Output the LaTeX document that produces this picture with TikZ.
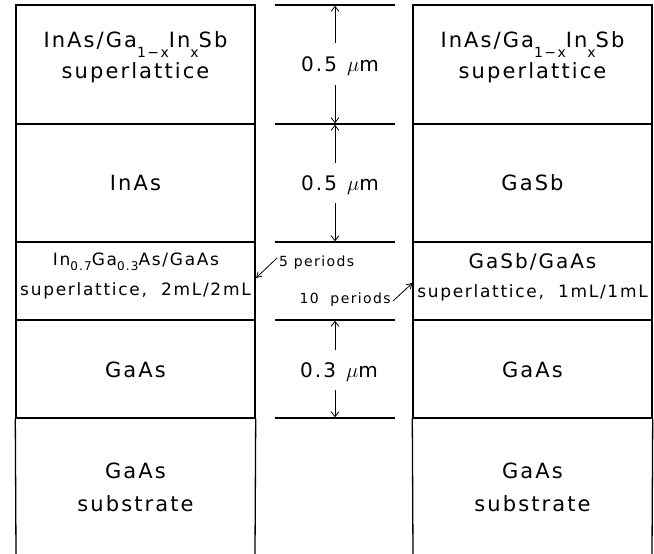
\documentclass[tikz,border=0pt]{standalone}
\usepackage{fontspec}
\setmainfont{DejaVu Sans}[LetterSpace=10]
\usetikzlibrary{arrows.meta}
\newcommand\lowsub[1]{\raisebox{-10pt}{\fontsize{14}{14}\selectfont #1}}
\newcommand\smsub[1]{\raisebox{-5pt}{\fontsize{12}{12}\selectfont #1}}
\begin{document}
\begin{tikzpicture}[x=1pt,y=-1pt,
  box/.style={draw, line width=1.4pt, rectangle, inner sep=0pt},
  rule/.style={line width=1.3pt},
  dimarr/.style={line width=0.8pt, -{Straight Barb[length=5pt,width=8pt]}},
  lbl/.style={anchor=base, inner sep=0pt, font=\fontsize{21}{23}\selectfont},
  mid/.style={anchor=base, inner sep=0pt, font=\fontsize{20}{22}\selectfont},
  sm/.style={anchor=base, inner sep=0pt, font=\fontsize{17}{19}\selectfont},
  per/.style={anchor=base west, inner sep=0pt, font=\fontsize{14}{16}\selectfont},
  ptr/.style={line width=0.8pt, -{Straight Barb[length=5pt,width=6pt]}}]
\useasboundingbox (0,0) rectangle (654,554);
% left stack
\node[box, minimum width=239pt, minimum height=119pt] (L1) at (135.5,64.5) {};
\node[box, minimum width=239pt, minimum height=118pt] (L2) at (135.5,183) {};
\node[box, minimum width=239pt, minimum height=78pt] (L3) at (135.5,281) {};
\node[box, minimum width=239pt, minimum height=98pt] (L4) at (135.5,369) {};
\coordinate (L5sw) at (16,554);
\coordinate (L5se) at (255,554);
\draw[rule] (L4.south west) -- (L5sw);
\draw[rule] (L4.south east) -- (L5se);
% right stack
\node[box, minimum width=239pt, minimum height=119pt] (R1) at (532.5,64.5) {};
\node[box, minimum width=239pt, minimum height=118pt] (R2) at (532.5,183) {};
\node[box, minimum width=239pt, minimum height=78pt] (R3) at (532.5,281) {};
\node[box, minimum width=239pt, minimum height=98pt] (R4) at (532.5,369) {};
\coordinate (R5sw) at (413,554);
\coordinate (R5se) at (652,554);
\draw[rule] (R4.south west) -- (R5sw);
\draw[rule] (R4.south east) -- (R5se);
% middle rules
\foreach \yy in {5,124,242,320,418} \draw[rule] (275,\yy) -- (395,\yy);
% left texts
\node[lbl] (lt1) at (135.5,47) {InAs/Ga\lowsub{1−x}In\lowsub{x}Sb};
\node[lbl] (lt2) at (135.5,78) {superlattice};
\node[lbl] (lt3) at (135.5,190) {InAs};
\node[sm] (lt4) at (136,265) {In\smsub{0.7}Ga\smsub{0.3}As/GaAs};
\node[sm] (lt5) at (135.5,295) {superlattice,\ \ 2mL/2mL};
\node[lbl] (lt6) at (135.5,377) {GaAs};
\node[lbl] (lt7) at (135.5,478) {GaAs};
\node[lbl] (lt8) at (135.5,511) {substrate};
% right texts
\node[lbl] (rt1) at (532.5,47) {InAs/Ga\lowsub{1−x}In\lowsub{x}Sb};
\node[lbl] (rt2) at (532.5,78) {superlattice};
\node[lbl] (rt3) at (532.5,190) {GaSb};
\node[mid] (rt4) at (532.5,268) {GaSb/GaAs};
\node[sm] (rt5) at (532.5,297) {superlattice,\ \ 1mL/1mL};
\node[lbl] (rt6) at (532.5,377) {GaAs};
\node[lbl] (rt7) at (532.5,478) {GaAs};
\node[lbl] (rt8) at (532.5,511) {substrate};
% dimensions
\node[mid] (d1) at (340,71) {0.5\hspace{0.5em}$\mu$m};
\node[mid] (d2) at (340,190) {0.5\hspace{0.5em}$\mu$m};
\node[mid] (d3) at (339,377) {0.3\hspace{0.5em}$\mu$m};
\coordinate (d1a) at (335,43); \coordinate (d1t) at (335,5.8);
\coordinate (d1b) at (335,85); \coordinate (d1u) at (335,123.2);
\coordinate (d2a) at (335,163); \coordinate (d2t) at (335,124.8);
\coordinate (d2b) at (335,203); \coordinate (d2u) at (335,241.2);
\coordinate (d3a) at (335,350); \coordinate (d3t) at (335,320.8);
\coordinate (d3b) at (335,390); \coordinate (d3u) at (335,417.2);
\draw[dimarr] (d1a) -- (d1t);
\draw[dimarr] (d1b) -- (d1u);
\draw[dimarr] (d2a) -- (d2t);
\draw[dimarr] (d2b) -- (d2u);
\draw[dimarr] (d3a) -- (d3t);
\draw[dimarr] (d3b) -- (d3u);
% periods
\node[per] (p5) at (279,266) {5 periods};
\node[per, anchor=base east] (p10) at (391,303) {10\ \ periods};
\coordinate (p5e) at (256,278);
\coordinate (p10e) at (412.5,283);
\draw[ptr] (277,258) -- (p5e);
\draw[ptr] (393,301) -- (p10e);
\end{tikzpicture}
\end{document}
